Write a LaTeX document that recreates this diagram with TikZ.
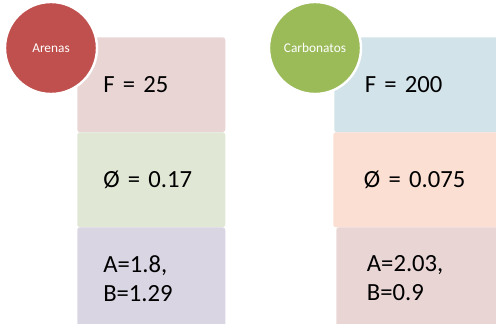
\documentclass[tikz,border=0pt]{standalone}
\usepackage{fontspec}
\setmainfont{Carlito}
\usetikzlibrary{calc}

\definecolor{rojoA}{RGB}{192,80,77}
\definecolor{verdeC}{RGB}{155,187,89}
\definecolor{rosa}{RGB}{234,213,213}
\definecolor{verdeclaro}{RGB}{224,232,213}
\definecolor{lila}{RGB}{217,213,227}
\definecolor{celeste}{RGB}{210,227,234}
\definecolor{durazno}{RGB}{251,223,211}

\begin{document}
\begin{tikzpicture}[x=0.75pt,y=-0.75pt,
  caja/.style={anchor=north west, rounded corners=2pt, minimum height=71.25pt,
    inner ysep=0pt, align=left, font=\fontsize{18.5}{21.75}\selectfont},
  cajaA/.style={caja, inner xsep=19.5pt, text width=72pt},
  cajaC/.style={caja, inner xsep=23pt, text width=110pt},
  bola/.style={circle, draw=white, line width=1.8pt, minimum size=69pt,
    inner sep=0pt, text=white, font=\fontsize{10}{12}\selectfont}]
       \useasboundingbox (0,0) rectangle (496,324);
       \clip (0,0) rectangle (496,324);

       %arenas
       \node[cajaA, fill=rosa] (fA) at (77,37) {F = 25};
       \node[cajaA, fill=verdeclaro] (phiA) at (77,132) {Ø = 0.17};
       \node[cajaA, fill=lila, minimum height=76.5pt] (abA) at (77,227) {A=1.8,\\B=1.29};

       %carbonatos
       \node[cajaC, fill=celeste] (fC) at (334,37) {F = 200};
       \node[cajaC, fill=durazno] (phiC) at (333,132) {Ø = 0.075};
       \node[cajaC, fill=rosa, minimum height=76.5pt] (abC) at (336,227) {A=2.03,\\B=0.9};

       %circulos
       \node[bola, fill=rojoA] (arenas) at (51,48) {Arenas};
       \node[bola, fill=verdeC] (carbonatos) at (315,48) {Carbonatos};
\end{tikzpicture}
\end{document}
